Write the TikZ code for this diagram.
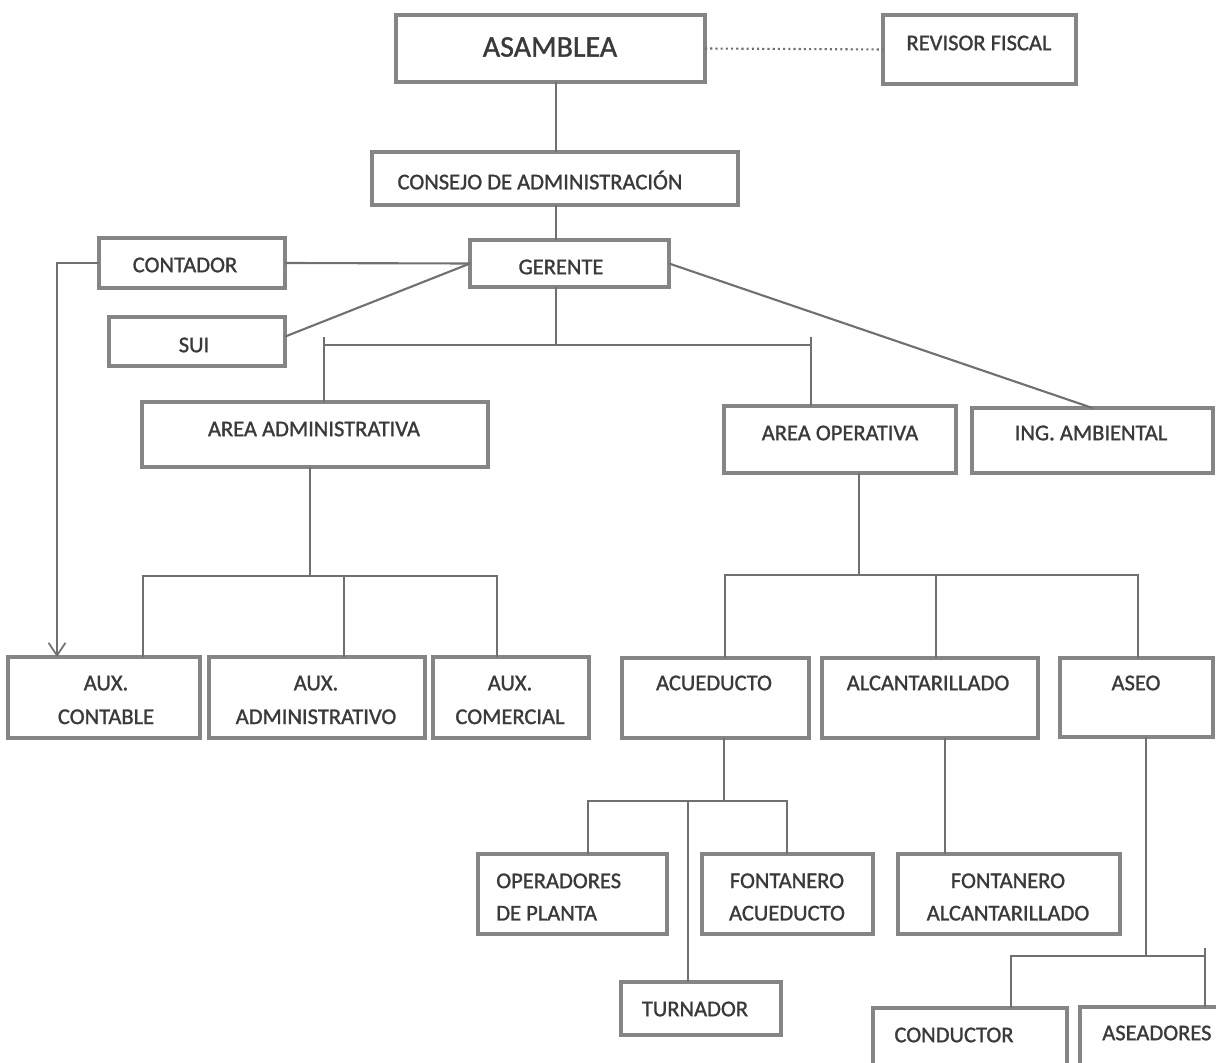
\documentclass[tikz,border=0pt]{standalone}
\usepackage{fontspec}
\setmainfont[FakeBold=1.2]{Carlito}
\usetikzlibrary{fit,arrows.meta,calc}
\definecolor{boxgray}{HTML}{858585}
\definecolor{linegray}{HTML}{707070}
\definecolor{txtgray}{HTML}{3A3A3A}
\tikzset{
  box/.style={draw=boxgray, line width=2.7pt, inner sep=0pt, outer sep=0pt, rectangle},
  conn/.style={draw=linegray, line width=1.5pt},
  dotconn/.style={draw=linegray, line width=1.5pt, dash pattern=on 1.5pt off 2.2pt},
  txt/.style={text=txtgray, inner sep=0pt, align=center, font=\fontsize{16}{24}\selectfont},
  bigtxt/.style={text=txtgray, inner sep=0pt, font=\fontsize{21.3}{25}\selectfont},
}
\begin{document}
\begin{tikzpicture}[x=0.025cm,y=-0.025cm]
\useasboundingbox (0,0) rectangle (1216,1063);
\fill[white] (0,0) rectangle (1216,1063);
\clip (0,0) rectangle (1216,1063);
% boxes
\node[box, fit={(396,15)(705,82)}] (asam) {};
\node[box, fit={(883,15)(1076,84)}] (rev) {};
\node[box, fit={(372,152)(738,205)}] (cons) {};
\node[box, fit={(470,240)(669,287)}] (ger) {};
\node[box, fit={(99,238)(285,288)}] (cont) {};
\node[box, fit={(109,317)(285,366)}] (sui) {};
\node[box, fit={(142,402)(488,467)}] (aadm) {};
\node[box, fit={(724,406)(956,473)}] (aop) {};
\node[box, fit={(972,408)(1213,473)}] (ing) {};
\node[box, fit={(8,657)(200,738)}] (auxc) {};
\node[box, fit={(209,657)(425,738)}] (auxa) {};
\node[box, fit={(433,657)(589,738)}] (auxm) {};
\node[box, fit={(622,658)(809,738)}] (acu) {};
\node[box, fit={(822,658)(1038,738)}] (alc) {};
\node[box, fit={(1060,658)(1213,737)}] (aseo) {};
\node[box, fit={(478,854)(667,934)}] (oper) {};
\node[box, fit={(702,854)(873,934)}] (fonacu) {};
\node[box, fit={(898,854)(1120,934)}] (fonalc) {};
\node[box, fit={(621,982)(781,1035)}] (turn) {};
\node[box, fit={(873,1008)(1067,1100)}] (cond) {};
\node[box, fit={(1080,1007)(1270,1100)}] (asead) {};
% texts
\node[bigtxt] (tasam) at (550,47) {ASAMBLEA};
\node[txt] (trev) at (979,43) {REVISOR FISCAL};
\node[txt] (tcons) at (540,180) {CONSEJO DE ADMINISTRACIÓN};
\node[txt] (tger) at (561,267) {GERENTE};
\node[txt] (tcont) at (185,265) {CONTADOR};
\node[txt] (tsui) at (194,345) {SUI};
\node[txt] (taadm) at (314,429) {AREA ADMINISTRATIVA};
\node[txt] (taop) at (840,433) {AREA OPERATIVA};
\node[txt] (ting) at (1091,433) {ING. AMBIENTAL};
\node[txt] (tauxc) at (106,700) {AUX.\\CONTABLE};
\node[txt] (tauxa) at (316,700) {AUX.\\ADMINISTRATIVO};
\node[txt] (tauxm) at (510,700) {AUX.\\COMERCIAL};
\node[txt] (tacu) at (714,683) {ACUEDUCTO};
\node[txt] (talc) at (928,683) {ALCANTARILLADO};
\node[txt] (taseo) at (1136,683) {ASEO};
\node[txt, align=left, anchor=west] (toper) at (496,897) {OPERADORES\\[-1pt]DE PLANTA};
\node[txt] (tfonacu) at (787,897) {FONTANERO\\[-1pt]ACUEDUCTO};
\node[txt] (tfonalc) at (1008,897) {FONTANERO\\[-1pt]ALCANTARILLADO};
\node[txt] (tturn) at (695,1009) {TURNADOR};
\node[txt] (tcond) at (954,1035) {CONDUCTOR};
\node[txt, anchor=west] (tasead) at (1102,1033) {ASEADORES};
% connectors
\draw[dotconn] (asam.east) -- (rev.west);
\draw[conn] (556,0 |- asam.south) -- (556,0 |- cons.north);
\draw[conn] (556,0 |- cons.south) -- (556,0 |- ger.north);
\draw[conn] (cont.east) -- (ger.west);
\draw[conn] (ger.west) -- ($(sui.north east)!0.4!(sui.south east)$);
\draw[conn] (ger.east) -- (ing.north);
\draw[conn, -{Straight Barb[length=9pt,width=12pt,line width=1.2pt]}] (cont.west) -| (57,0 |- auxc.north);
% gerente bus
\draw[conn] (556,0 |- ger.south) -- (556,345);
\draw[conn] (324,337) -- (324,0 |- aadm.north);
\draw[conn] (811,337) -- (811,0 |- aop.north);
\draw[conn] (324,345) -- (811,345);
% area administrativa
\draw[conn] (310,0 |- aadm.south) -- (310,576);
\draw[conn] (143,0 |- auxc.north) |- (497,576) -- (497,0 |- auxm.north);
\draw[conn] (344,576) -- (344,0 |- auxa.north);
% area operativa
\draw[conn] (859,0 |- aop.south) -- (859,575);
\draw[conn] (725,0 |- acu.north) |- (1138,575) -- (1138,0 |- aseo.north);
\draw[conn] (936,575) -- (936,0 |- alc.north);
% acueducto
\draw[conn] (724,0 |- acu.south) -- (724,801);
\draw[conn] (588,0 |- oper.north) |- (787,801) -- (787,0 |- fonacu.north);
\draw[conn] (688,801) -- (688,0 |- turn.north);
% alcantarillado
\draw[conn] (945,0 |- alc.south) -- (945,0 |- fonalc.north);
% aseo
\draw[conn] (1146,0 |- aseo.south) -- (1146,956);
\draw[conn] (1011,0 |- cond.north) |- (1205,956);
\draw[conn] (1205,948) -- (1205,0 |- asead.north);
\end{tikzpicture}
\end{document}
